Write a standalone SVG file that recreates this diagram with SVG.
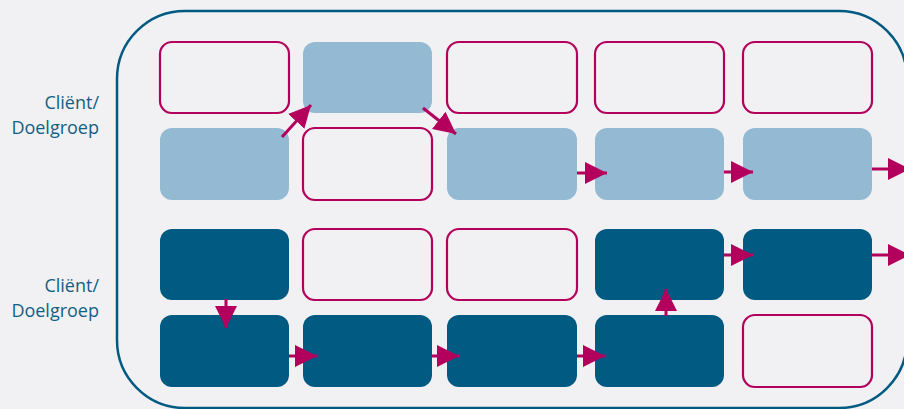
<svg xmlns="http://www.w3.org/2000/svg" width="904" height="409" viewBox="0 0 904 409">
<defs>
<marker id="ah" markerUnits="userSpaceOnUse" markerWidth="22" markerHeight="22" viewBox="0 0 20 20" refX="20" refY="10" orient="auto">
<path d="M0,0 L20,10 L0,20 Z" fill="#b3005c"/>
</marker>
<style>
.o{fill:#f1f1f3;stroke:#b3005c;stroke-width:2.2}
.l{fill:#94b9d3}
.d{fill:#005a82}
.c{stroke:#b3005c;stroke-width:3;fill:none;marker-end:url(#ah)}
.t{font-family:"Open Sans","Noto Sans",sans-serif;font-size:18px;fill:#135f84;text-anchor:end}
</style>
</defs>
<rect width="904" height="409" fill="#f1f1f3"/>
<rect id="frame" x="117" y="11" width="790" height="397" rx="68" fill="#f1f1f3" stroke="#005a82" stroke-width="2.5"/>
<g id="label1"><text class="t" x="99" y="109">Cliënt/</text><text class="t" x="99" y="133.5">Doelgroep</text></g>
<g id="label2"><text class="t" x="99" y="292">Cliënt/</text><text class="t" x="99" y="316.5">Doelgroep</text></g>
<g id="r1c1"><rect class="o" x="160" y="42" width="129" height="71" rx="12"/></g>
<g id="r1c2"><rect class="l" x="303" y="42" width="129" height="71" rx="12"/></g>
<g id="r1c3"><rect class="o" x="447" y="42" width="130" height="71" rx="12"/></g>
<g id="r1c4"><rect class="o" x="595" y="42" width="129" height="71" rx="12"/></g>
<g id="r1c5"><rect class="o" x="743" y="42" width="129" height="71" rx="12"/></g>
<g id="r2c1"><rect class="l" x="160" y="128" width="129" height="72" rx="12"/></g>
<g id="r2c2"><rect class="o" x="303" y="128" width="129" height="72" rx="12"/></g>
<g id="r2c3"><rect class="l" x="447" y="128" width="130" height="72" rx="12"/></g>
<g id="r2c4"><rect class="l" x="595" y="128" width="129" height="72" rx="12"/></g>
<g id="r2c5"><rect class="l" x="743" y="128" width="129" height="72" rx="12"/></g>
<g id="r3c1"><rect class="d" x="160" y="229" width="129" height="71" rx="12"/></g>
<g id="r3c2"><rect class="o" x="303" y="229" width="129" height="71" rx="12"/></g>
<g id="r3c3"><rect class="o" x="447" y="229" width="130" height="71" rx="12"/></g>
<g id="r3c4"><rect class="d" x="595" y="229" width="129" height="71" rx="12"/></g>
<g id="r3c5"><rect class="d" x="743" y="229" width="129" height="71" rx="12"/></g>
<g id="r4c1"><rect class="d" x="160" y="315" width="129" height="72" rx="12"/></g>
<g id="r4c2"><rect class="d" x="303" y="315" width="129" height="72" rx="12"/></g>
<g id="r4c3"><rect class="d" x="447" y="315" width="130" height="72" rx="12"/></g>
<g id="r4c4"><rect class="d" x="595" y="315" width="129" height="72" rx="12"/></g>
<g id="r4c5"><rect class="o" x="743" y="315" width="129" height="72" rx="12"/></g>
<g id="connectors">
<line class="c" x1="282" y1="137" x2="311" y2="105"/>
<line class="c" x1="423" y1="108" x2="456" y2="134"/>
<line class="c" x1="577" y1="173" x2="607" y2="173"/>
<line class="c" x1="724" y1="172" x2="753" y2="172"/>
<line class="c" x1="872" y1="169" x2="910" y2="169"/>
<line class="c" x1="724" y1="255" x2="753" y2="255"/>
<line class="c" x1="872" y1="255" x2="910" y2="255"/>
<line class="c" x1="226" y1="299" x2="226" y2="328"/>
<line class="c" x1="289" y1="356" x2="317" y2="356"/>
<line class="c" x1="432" y1="356" x2="459" y2="356"/>
<line class="c" x1="577" y1="356" x2="605" y2="356"/>
<line class="c" x1="666" y1="316" x2="666" y2="289"/>
</g>
</svg>
